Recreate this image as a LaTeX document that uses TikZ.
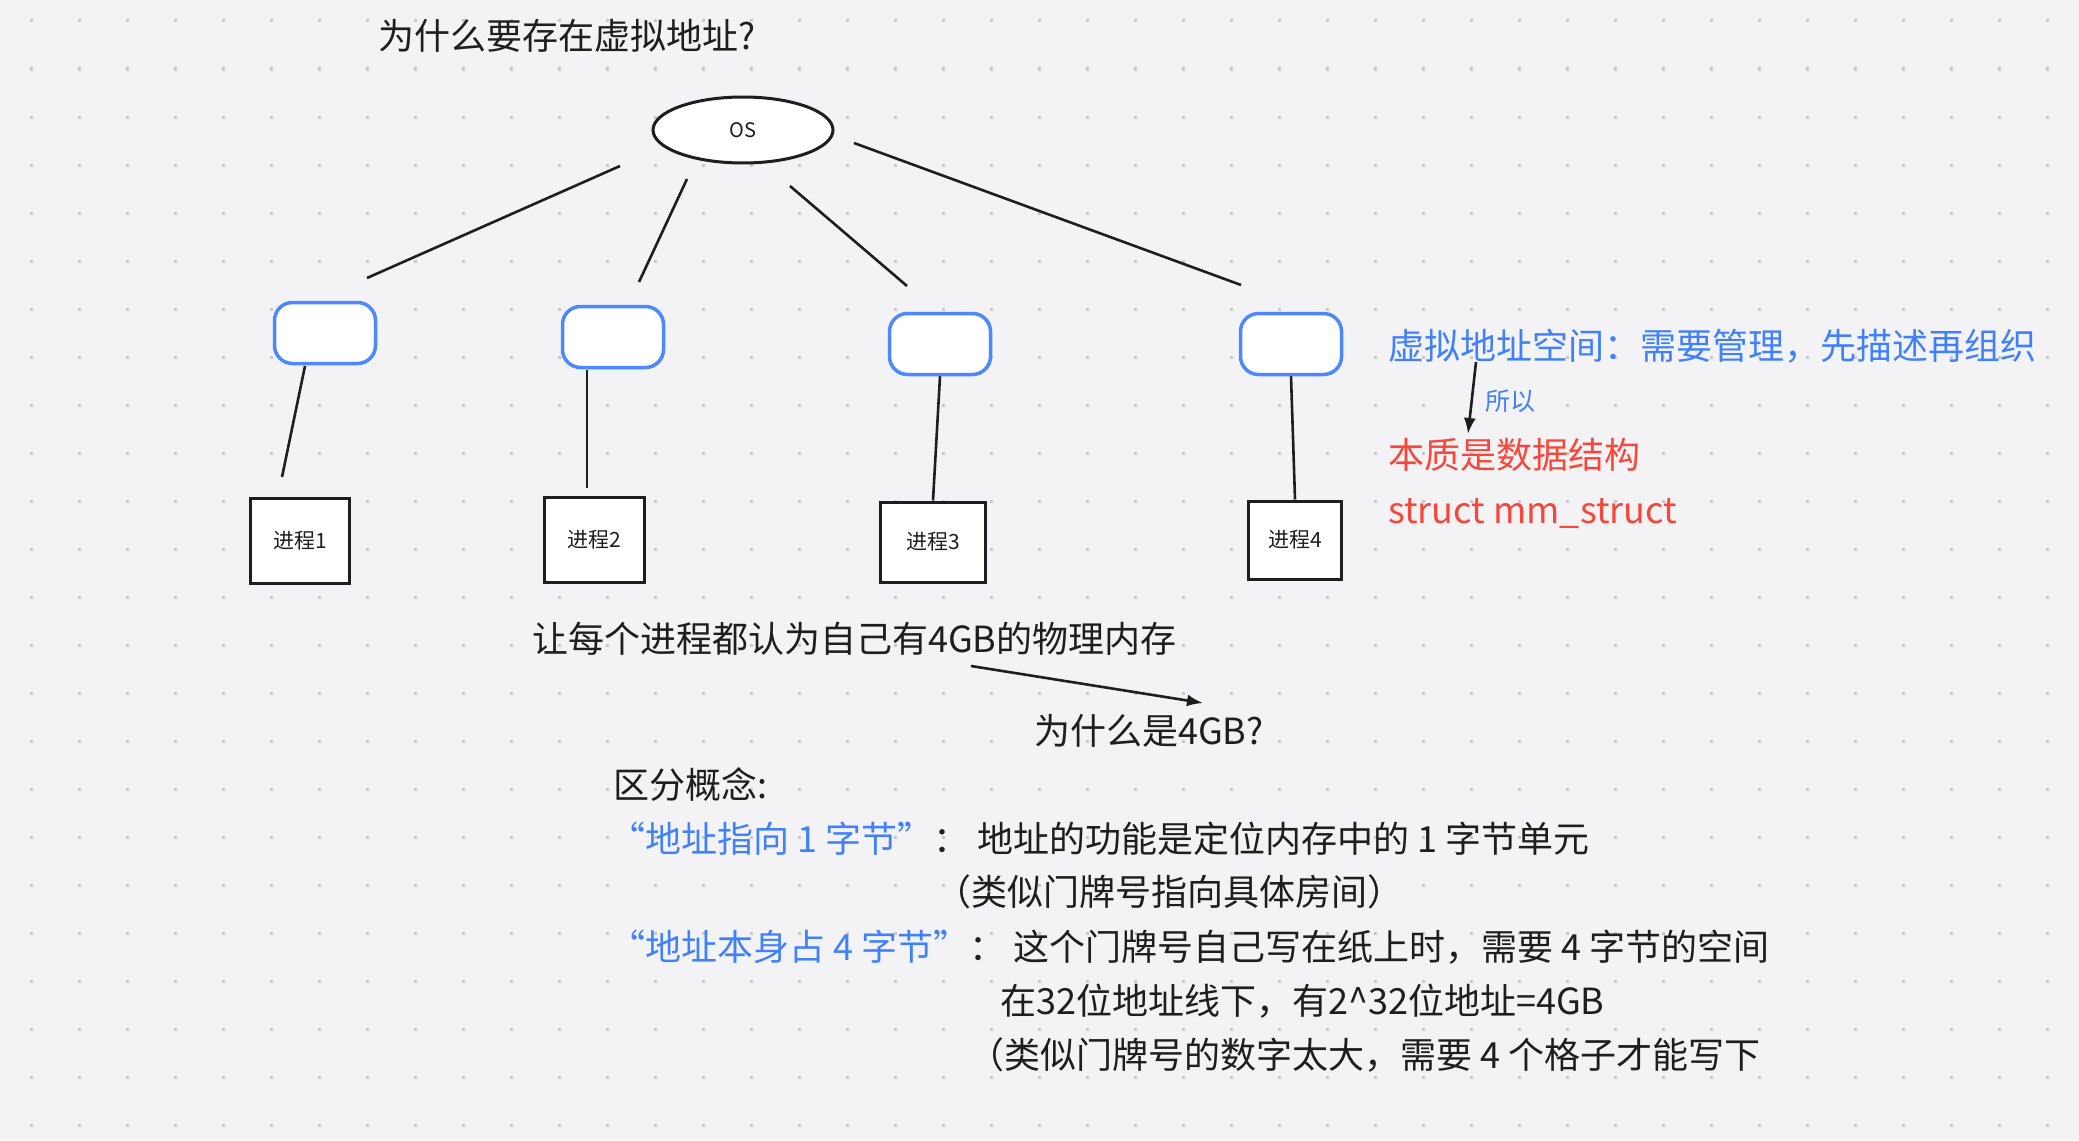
\documentclass[tikz,border=0pt]{standalone}
\usepackage{fontspec}
\setmainfont{Noto Sans CJK SC}
\usetikzlibrary{arrows.meta,shapes.geometric}
\definecolor{bgc}{RGB}{243,243,245}
\definecolor{dotc}{RGB}{200,200,203}
\definecolor{bluet}{RGB}{64,128,250}
\definecolor{blueb}{RGB}{77,136,255}
\definecolor{redt}{RGB}{245,72,58}
\definecolor{ink}{RGB}{30,30,30}
\tikzset{
  big/.style={font=\fontsize{36}{40}\selectfont, text=ink, anchor=west, inner sep=0pt},
  bluebox/.style={draw=blueb, line width=3.5pt, fill=white, rounded corners=18pt, minimum width=101pt, minimum height=61pt},
  procbox/.style={draw=ink, line width=3pt, fill=white, minimum width=99pt, minimum height=85pt, font=\fontsize{21}{24}\selectfont, text=ink},
  link/.style={draw=ink, line width=2.6pt},
  arr/.style={draw=ink, line width=2.6pt, -{Latex[length=16pt,width=12pt]}},
}
\begin{document}
\begin{tikzpicture}[x=1pt,y=-1pt]
\fill[bgc] (0,0) rectangle (2079,1140);
\useasboundingbox (0,0) rectangle (2079,1140);
\foreach \i in {0,...,43} \foreach \j in {0,...,23} \fill[dotc] (29.5+48*\i,19.5+48*\j) rectangle ++(3,3);

\node[big] (title) at (378,36) {为什么要存在虚拟地址?};
\node[draw=ink, line width=3pt, fill=white, ellipse, minimum width=180pt, minimum height=66pt, font=\fontsize{20}{24}\selectfont, text=ink, inner sep=0pt] (os) at (743,130) {OS};

\node[bluebox] (b1) at (325,333) {};
\node[bluebox] (b2) at (613,337) {};
\node[bluebox] (b3) at (940,344) {};
\node[bluebox] (b4) at (1291,344) {};

\node[procbox] (p1) at (300,541) {进程1};
\node[procbox, minimum width=100pt] (p2) at (594,540) {进程2};
\node[procbox, minimum width=105pt, minimum height=80pt] (p3) at (933,542) {进程3};
\node[procbox, minimum width=93pt, minimum height=78pt] (p4) at (1295,540) {进程4};

\coordinate (o1) at (620,166); \coordinate (t1) at (367,278);
\coordinate (o2) at (687,179); \coordinate (t2) at (639,282);
\coordinate (o3) at (790,186); \coordinate (t3) at (907,286);
\coordinate (o4) at (854,143); \coordinate (t4) at (1241,285);
\draw[link] (o1) -- (t1);
\draw[link] (o2) -- (t2);
\draw[link] (o3) -- (t3);
\draw[link] (o4) -- (t4);

\coordinate (s1) at (305,366); \coordinate (e1) at (282,477);
\coordinate (s2) at (587,370); \coordinate (e2) at (587,488);
\draw[link] (s1) -- (e1);
\draw[link] (s2) -- (e2);
\draw[link] (b3.south) -- (p3.north);
\draw[link] (b4.south) -- (p4.north);

\node[big, text=bluet] (vas) at (1388,346) {虚拟地址空间：需要管理，先描述再组织};
\node[font=\fontsize{25}{28}\selectfont, text=bluet, anchor=west, inner sep=0pt] (suoyi) at (1485,401) {所以};
\node[big, text=redt] (essence) at (1388,455) {本质是数据结构};
\node[big, text=redt] (mm) at (1388,513) {struct mm\_struct};
\coordinate (a1s) at (1476,362); \coordinate (a1e) at (1468,434);
\draw[arr] (a1s) -- (a1e);

\node[big] (fourgb) at (532,639) {让每个进程都认为自己有4GB的物理内存};
\node[big] (why4) at (1034,731) {为什么是4GB?};
\coordinate (a2s) at (971,666); \coordinate (a2e) at (1203,703);
\draw[arr] (a2s) -- (a2e);

\node[big] (concept) at (613,785) {区分概念:};
\node[big] (l1) at (609,839) {\textcolor{bluet}{“地址指向 1 字节”}： 地址的功能是定位内存中的 1 字节单元};
\node[big] (l2) at (935,892) {（类似门牌号指向具体房间）};
\node[big] (l3) at (609,947) {\textcolor{bluet}{“地址本身占 4 字节”}： 这个门牌号自己写在纸上时，需要 4 字节的空间};
\node[big] (l4) at (1000,1001) {在32位地址线下，有2\^{}32位地址=4GB};
\node[big] (l5) at (968,1055) {（类似门牌号的数字太大，需要 4 个格子才能写下};
\end{tikzpicture}
\end{document}
